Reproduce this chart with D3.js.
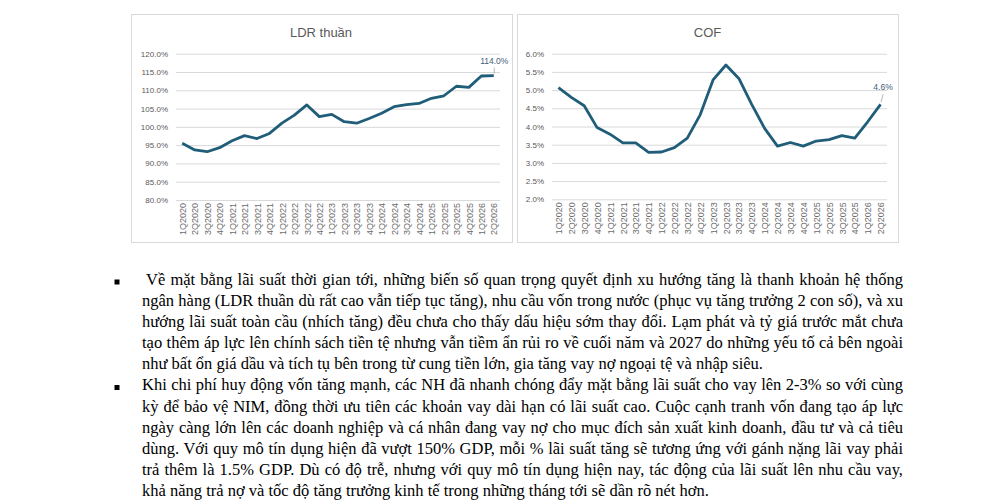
<!DOCTYPE html>
<html>
<head>
<meta charset="utf-8">
<script src="https://cdn.jsdelivr.net/npm/d3@7"></script>
<style>
  body { margin: 0; background: #fff; }
  #page { position: relative; width: 986px; height: 501px; overflow: hidden; }
  svg { position: absolute; left: 0; top: 0; }
  .line { position: absolute; font-family: "Liberation Serif", "Times New Roman", serif;
          font-size: 16.5px; line-height: 21.1px; color: #000; white-space: normal; }
  .just { text-align: justify; text-align-last: justify; }
</style>
</head>
<body>
<div id="page"></div>
<script>
// quarters on the x axis (same for both panels)
const quarters = ["1Q2020","2Q2020","3Q2020","4Q2020","1Q2021","2Q2021","3Q2021","4Q2021",
  "1Q2022","2Q2022","3Q2022","4Q2022","1Q2023","2Q2023","3Q2023","4Q2023",
  "1Q2024","2Q2024","3Q2024","4Q2024","1Q2025","2Q2025","3Q2025","4Q2025",
  "1Q2026","2Q2026"];

// LDR thuần, %
const ldrValues = [95.5, 93.7, 93.2, 94.3, 96.2, 97.6, 96.8, 98.2,
  101.0, 103.2, 106.0, 102.8, 103.4, 101.4, 101.0, 102.3,
  103.7, 105.5, 106.1, 106.4, 107.8, 108.5, 111.1, 110.8,
  113.9, 114.0];
const ldrTicks = [80, 85, 90, 95, 100, 105, 110, 115, 120];

// COF, %
const cofValues = [5.07, 4.80, 4.57, 3.97, 3.79, 3.55, 3.55, 3.29,
  3.30, 3.42, 3.68, 4.32, 5.28, 5.69, 5.32, 4.61,
  3.95, 3.46, 3.56, 3.46, 3.60, 3.64, 3.75, 3.68,
  4.13, 4.61];
const cofTicks = [2.0, 2.5, 3.0, 3.5, 4.0, 4.5, 5.0, 5.5, 6.0];

// paragraph text, one entry per printed line
const para1 = [
  "Về mặt bằng lãi suất thời gian tới, những biến số quan trọng quyết định xu hướng tăng là thanh khoản hệ thống",
  "ngân hàng (LDR thuần dù rất cao vẫn tiếp tục tăng), nhu cầu vốn trong nước (phục vụ tăng trưởng 2 con số), và xu",
  "hướng lãi suất toàn cầu (nhích tăng) đều chưa cho thấy dấu hiệu sớm thay đổi. Lạm phát và tỷ giá trước mắt chưa",
  "tạo thêm áp lực lên chính sách tiền tệ nhưng vẫn tiềm ẩn rủi ro về cuối năm và 2027 do những yếu tố cả bên ngoài",
  "như bất ổn giá dầu và tích tụ bên trong từ cung tiền lớn, gia tăng vay nợ ngoại tệ và nhập siêu."
];
const para2 = [
  "Khi chi phí huy động vốn tăng mạnh, các NH đã nhanh chóng đẩy mặt bằng lãi suất cho vay lên 2-3% so với cùng",
  "kỳ để bảo vệ NIM, đồng thời ưu tiên các khoản vay dài hạn có lãi suất cao. Cuộc cạnh tranh vốn đang tạo áp lực",
  "ngày càng lớn lên các doanh nghiệp và cá nhân đang vay nợ cho mục đích sản xuất kinh doanh, đầu tư và cả tiêu",
  "dùng. Với quy mô tín dụng hiện đã vượt 150% GDP, mỗi % lãi suất tăng sẽ tương ứng với gánh nặng lãi vay phải",
  "trả thêm là 1.5% GDP. Dù có độ trễ, nhưng với quy mô tín dụng hiện nay, tác động của lãi suất lên nhu cầu vay,",
  "khả năng trả nợ và tốc độ tăng trưởng kinh tế trong những tháng tới sẽ dần rõ nét hơn."
];

const page = d3.select("#page");
const svg = page.append("svg").attr("width", 986).attr("height", 501);

const lineColor = "#1f5d78";
const tickColor = "#595959";
const gridColor = "#d9d9d9";

function drawPanel(o) {
  const g = svg.append("g");

  // chart frame
  g.append("rect")
    .attr("x", o.frame[0]).attr("y", o.frame[1])
    .attr("width", o.frame[2]).attr("height", o.frame[3])
    .attr("fill", "#fff").attr("stroke", gridColor).attr("stroke-width", 1);

  g.append("text")
    .attr("x", o.titleX).attr("y", 37)
    .attr("text-anchor", "middle")
    .attr("font-family", "Liberation Sans, Arial, sans-serif")
    .attr("font-size", 13).attr("fill", tickColor)
    .text(o.title);

  const x = d3.scalePoint().domain(quarters).range(o.xRange).padding(0.5);
  const y = d3.scaleLinear().domain(o.yDomain).range(o.yRange);

  // gridlines + y labels
  const yAxis = d3.axisLeft(y).tickValues(o.ticks)
    .tickSize(-(o.xRange[1] - o.xRange[0])).tickPadding(8)
    .tickFormat(d => d3.format(".1f")(d) + "%");
  const ya = g.append("g").attr("transform", `translate(${o.xRange[0]},0)`).call(yAxis);
  ya.select(".domain").remove();
  ya.selectAll("line").attr("stroke", gridColor).attr("stroke-width", 1);
  ya.selectAll("text").attr("fill", tickColor).attr("font-size", 8)
    .attr("font-family", "Liberation Sans, Arial, sans-serif");

  // x labels, rotated
  const xAxis = d3.axisBottom(x).tickSize(0).tickPadding(0);
  const xa = g.append("g").attr("transform", `translate(0,${o.yRange[0]})`).call(xAxis);
  xa.select(".domain").remove();
  xa.selectAll("text")
    .attr("transform", "rotate(-90)")
    .attr("text-anchor", "end")
    .attr("x", -3).attr("y", 0).attr("dy", "0.35em")
    .attr("fill", "#6b6b6b").attr("font-size", 9)
    .attr("font-family", "Liberation Sans, Arial, sans-serif");

  // series line
  g.append("path")
    .datum(o.values)
    .attr("fill", "none")
    .attr("stroke", lineColor)
    .attr("stroke-width", 2.8)
    .attr("stroke-linejoin", "round")
    .attr("d", d3.line().x((d, i) => x(quarters[i])).y(d => y(d)));

  // last point label with leader line
  const li = quarters.length - 1;
  const px = x(quarters[li]), py = y(o.values[li]);
  g.append("line")
    .attr("x1", px + o.labelDx).attr("y1", py - o.labelDy + 4)
    .attr("x2", px + 0.5).attr("y2", py - 2)
    .attr("stroke", "#a6a6a6").attr("stroke-width", 0.8);
  g.append("text")
    .attr("x", px + o.labelDx).attr("y", py - o.labelDy)
    .attr("text-anchor", "middle")
    .attr("font-family", "Liberation Sans, Arial, sans-serif")
    .attr("font-size", 8.5).attr("fill", "#44617a")
    .text(o.label);
}

drawPanel({
  frame: [131.5, 14.5, 381, 228],
  title: "LDR thuần", titleX: 321,
  xRange: [176, 500], yDomain: [80, 120], yRange: [200, 53.7],
  ticks: ldrTicks, values: ldrValues,
  label: "114.0%", labelDx: 0.5, labelDy: 12
});

drawPanel({
  frame: [517.5, 14.5, 381, 228],
  title: "COF", titleX: 707.5,
  xRange: [552, 887], yDomain: [2, 6], yRange: [199.3, 53.7],
  ticks: cofTicks, values: cofValues,
  label: "4.6%", labelDx: 2.5, labelDy: 14
});

// bullets
const lineH = 21.1, firstBase = 285;
const allLines = [];
para1.forEach((t, i) => allLines.push({ t, last: i === para1.length - 1, first: i === 0, bullet: i === 0 }));
para2.forEach((t, i) => allLines.push({ t, last: i === para2.length - 1, first: false, bullet: i === 0 }));

svg.selectAll("rect.bullet")
  .data(allLines.map((d, i) => ({ ...d, i })).filter(d => d.bullet))
  .join("rect")
  .attr("class", "bullet")
  .attr("x", 114.5).attr("y", d => firstBase + d.i * lineH - 5.5)
  .attr("width", 5).attr("height", 5).attr("fill", "#000");

page.selectAll("div.line")
  .data(allLines)
  .join("div")
  .attr("class", d => d.last ? "line" : "line just")
  .style("left", d => d.first ? "146px" : "142px")
  .style("width", d => d.first ? "757px" : "761px")
  .style("top", (d, i) => (firstBase + i * lineH - 16.1) + "px")
  .text(d => d.t);
</script>
</body>
</html>
